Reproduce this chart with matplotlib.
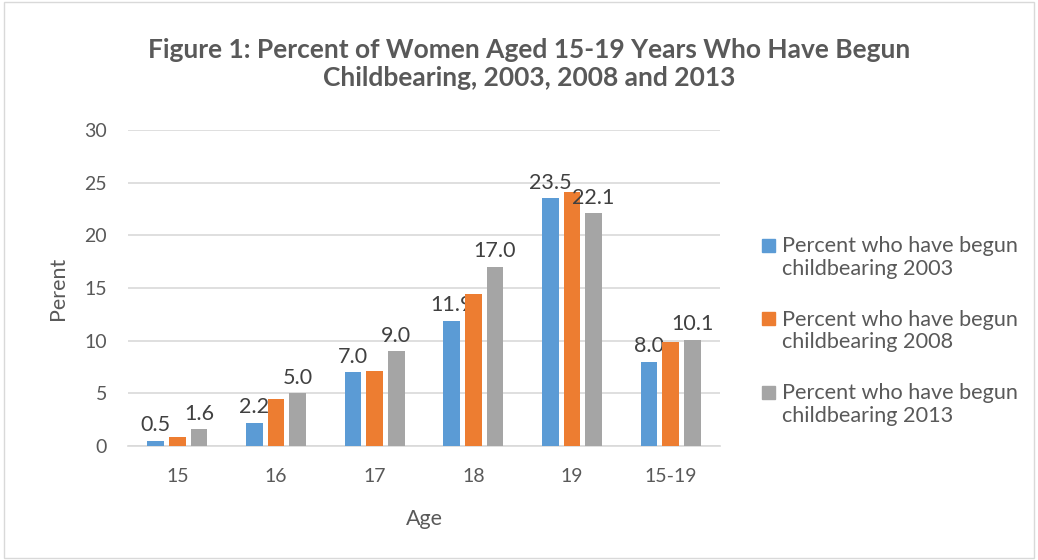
import numpy as np
import matplotlib
matplotlib.use("Agg")
from matplotlib import pyplot as plt
from matplotlib.patches import Rectangle

plt.rcParams['font.family'] = ['Lato', 'DejaVu Sans']

ages = ['15', '16', '17', '18', '19', '15-19']
pct_2003 = [0.5, 2.2, 7.0, 11.9, 23.5, 8.0]
pct_2008 = [0.9, 4.5, 7.1, 14.4, 24.1, 9.9]
pct_2013 = [1.6, 5.0, 9.0, 17.0, 22.1, 10.1]
series_names = ['Percent who have begun\nchildbearing 2003',
                'Percent who have begun\nchildbearing 2008',
                'Percent who have begun\nchildbearing 2013']
colors = ['#5B9BD5', '#ED7D31', '#A5A5A5']
yticks = [0, 5, 10, 15, 20, 25, 30]

W, H = 1038, 560
fig = plt.figure(figsize=(W / 100, H / 100), dpi=100)
fig.patches.append(Rectangle((0.004, 0.004), 0.992, 0.992, transform=fig.transFigure,
                             fill=False, edgecolor='#D9D9D9', lw=1))
ax = fig.add_axes([0.1233, 0.2036, 0.5703, 0.5644])

x = np.arange(len(ages))
w = 0.17
step = 0.22
data = [pct_2003, pct_2008, pct_2013]
for i, (vals, c) in enumerate(zip(data, colors)):
    bars = ax.bar(x + (i - 1) * step, vals, width=w, color=c, zorder=3)
    if i != 1:
        ax.bar_label(bars, labels=['%.1f' % v for v in vals], padding=4,
                     fontsize=15.5, color='#404040')

ax.set_xlim(-0.5, len(ages) - 0.5)
ax.set_ylim(0, 30)
ax.set_yticks(yticks)
ax.set_xticks(x)
ax.set_xticklabels(ages)
ax.tick_params(axis='both', length=0, labelsize=14, labelcolor='#595959')
ax.tick_params(axis='y', pad=15)
ax.tick_params(axis='x', pad=16)
ax.grid(axis='y', color='#D9D9D9', lw=1.2, zorder=0)
for s in ['top', 'right', 'left']:
    ax.spines[s].set_visible(False)
ax.spines['bottom'].set_color('#D9D9D9')
ax.spines['bottom'].set_linewidth(1.2)

ax.set_xlabel('Age', fontsize=15.5, color='#595959', labelpad=17)
ax.set_ylabel('Perent', fontsize=15.5, color='#595959', labelpad=12)

fig.text(529 / W, 1 - 64 / H,
         'Figure 1: Percent of Women Aged 15-19 Years Who Have Begun\nChildbearing, 2003, 2008 and 2013',
         ha='center', va='center', fontsize=19, fontweight='bold', color='#595959', linespacing=1.25)

# legend: square aligned with first text line
for k, (name, c) in enumerate(zip(series_names, colors)):
    y1 = 245 + k * 73.5
    fig.patches.append(Rectangle((762 / W, 1 - (y1 + 6.5) / H), 13 / W, 13 / H,
                                 transform=fig.transFigure, color=c))
    fig.text(782 / W, 1 - (y1 + 12.5) / H, name, ha='left', va='center',
             fontsize=15.6, color='#595959', linespacing=1.15)

fig.savefig('out.png', dpi=100)
